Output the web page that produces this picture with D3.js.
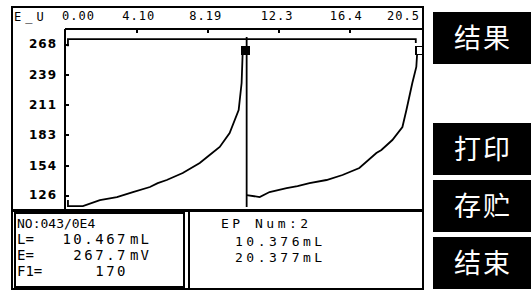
<!doctype html>
<html>
  <head>
    <meta charset="utf-8">
    <title>Titration curve</title>
    <script src="https://cdnjs.cloudflare.com/ajax/libs/d3/7.8.5/d3.min.js"></script>
    <style>
      body { margin: 0; background: #fff; }
      text { fill: #000; }
      .lcd { font-family: "DejaVu Sans Mono", monospace; }
      .xax text { font-family: "DejaVu Sans Mono", monospace; font-size: 12px; letter-spacing: 1px; }
      .yax text { font-family: "DejaVu Sans", sans-serif; font-size: 12px; font-weight: bold; letter-spacing: 1px; }
      .btn text { fill: #fff; font-family: "Noto Sans CJK SC", sans-serif; font-size: 27px; letter-spacing: 2px; }
    </style>
  </head>
  <body>
    <div id="screen"></div>
    <script>
      // x ticks (mL) and y ticks (mV)
      const xTicks = [0, 4.10, 8.19, 12.3, 16.4, 20.5];
      const xTickLabels = ['0.00', '4.10', '8.19', '12.3', '16.4', '20.5'];
      const yTicks = [268, 239, 211, 183, 154, 126];

      // first titration segment, volume (mL) / potential (mV)
      const curve1V = [0.17, 0.17, 1.03, 2.01, 2.99, 3.91, 4.89, 5.34, 5.86, 6.78, 7.76, 8.33, 8.91, 9.48, 10.0, 10.17, 10.23, 10.34];
      const curve1E = [121.2, 115.6, 115.6, 121.2, 124.1, 128.8, 133.5, 137.2, 140.1, 146.7, 156.1, 163.6, 171.2, 184.3, 205.9, 231.3, 259.5, 265.2];
      // second segment
      const curve2V = [10.46, 11.21, 11.78, 12.76, 13.39, 14.08, 15.06, 15.98, 16.95, 17.93, 18.22, 18.85, 19.43, 19.66, 20.0, 20.23, 20.29];
      const curve2E = [125.9, 124.1, 128.8, 132.5, 134.4, 137.2, 140.1, 144.8, 151.4, 165.5, 168.3, 177.7, 189.9, 205.9, 231.3, 246.4, 262.4];
      // drop line at end of segment 1 and flat trace at the top
      const dropV = [10.46, 10.46];
      const dropE = [274.6, 114.7];
      const topV = [0.17, 0.17, 10.3, 10.62, 20.2, 20.2];
      const topE = [266, 272.5, 272.5, 272.5, 272.5, 269];
      // end points found
      const epV = [10.376, 20.377];
      const epE = [262, 262];

      const infoNo = 'NO:043/0E4';
      const infoLabels = ['L=', 'E=', 'F1='];
      const infoValues = ['10.467', '267.7', '170'];
      const infoUnits = ['mL', 'mV', ''];
      const infoRight = ['EP Num:2', '10.376mL', '20.377mL'];
      const buttons = ['结果', '打印', '存贮', '结束'];
      const buttonTops = [12, 123, 180, 237];

      const svg = d3.select('#screen').append('svg')
        .attr('width', 531).attr('height', 294)
        .attr('shape-rendering', 'crispEdges');

      const x = d3.scaleLinear().domain([0, 20.5]).range([65, 421]);
      const y = d3.scaleLinear().domain([126, 268]).range([195, 44]);

      // outer frame
      svg.append('rect').attr('x', 12).attr('y', 7).attr('width', 411).attr('height', 282)
        .attr('fill', 'none').attr('stroke', '#000').attr('stroke-width', 2);
      svg.append('line').attr('x1', 12).attr('x2', 423).attr('y1', 210.5).attr('y2', 210.5)
        .attr('stroke', '#000').attr('stroke-width', 3);

      // plot frame
      svg.append('line').attr('x1', 65).attr('x2', 423).attr('y1', 29).attr('y2', 29)
        .attr('stroke', '#000').attr('stroke-width', 2);
      svg.append('line').attr('x1', 65).attr('x2', 65).attr('y1', 29).attr('y2', 210)
        .attr('stroke', '#000').attr('stroke-width', 2);

      const xShift = [13, 2, -2, -2, -4, -18];
      const xAxis = svg.append('g').attr('class', 'xax').attr('transform', 'translate(0,29)')
        .call(d3.axisTop(x).tickValues(xTicks).tickSize(-4).tickPadding(9)
          .tickFormat((d, i) => xTickLabels[i]));
      xAxis.selectAll('.tick text').attr('dx', (d, i) => xShift[i]);
      const yAxis = svg.append('g').attr('class', 'yax').attr('transform', 'translate(65,0)')
        .call(d3.axisLeft(y).tickValues(yTicks).tickSize(-4).tickPadding(8));
      [xAxis, yAxis].forEach(a => {
        a.select('.domain').remove();
        a.selectAll('line').attr('stroke', '#000').attr('stroke-width', 2);
      });
      xAxis.selectAll('.tick').filter(d => d === 0 || d === 20.5).select('line').remove();

      svg.append('text').attr('class', 'lcd').attr('x', 14).attr('y', 21)
        .style('font-size', '12px').style('letter-spacing', '4px').text('E_U');

      // curves
      const line = d3.line().x(d => x(d[0])).y(d => y(d[1]));
      const series = [[curve1V, curve1E], [curve2V, curve2E], [dropV, dropE], [topV, topE]];
      svg.append('g').selectAll('path').data(series).join('path')
        .attr('d', s => line(s[0].map((v, i) => [v, s[1][i]])))
        .attr('fill', 'none').attr('stroke', '#000').attr('stroke-width', 1.8)
        .attr('shape-rendering', 'auto');

      // end point markers
      svg.append('g').selectAll('rect').data(epV).join('rect')
        .attr('x', d => x(d) - 3).attr('y', (d, i) => y(epE[i]) - 4)
        .attr('width', 7).attr('height', 8)
        .attr('fill', (d, i) => i === 0 ? '#000' : '#fff')
        .attr('stroke', '#000').attr('stroke-width', 1.5);

      // info boxes
      svg.append('rect').attr('x', 15).attr('y', 213).attr('width', 169).attr('height', 74)
        .attr('fill', 'none').attr('stroke', '#000').attr('stroke-width', 2);
      svg.append('line').attr('x1', 189).attr('x2', 189).attr('y1', 211).attr('y2', 289)
        .attr('stroke', '#000').attr('stroke-width', 2);

      svg.append('text').attr('class', 'lcd').attr('x', 17).attr('y', 228)
        .style('font-size', '13px').text(infoNo);
      const rows = svg.append('g').selectAll('g').data(infoLabels).join('g')
        .attr('class', 'lcd').style('font-size', '14px')
        .attr('transform', (d, i) => `translate(0,${244 + i * 16})`);
      rows.append('text').attr('x', 17).text(d => d);
      rows.append('text').attr('x', 128).attr('text-anchor', 'end')
        .style('letter-spacing', '2.5px').text((d, i) => infoValues[i]);
      rows.append('text').attr('x', 130).style('letter-spacing', '2px').text((d, i) => infoUnits[i]);

      svg.append('g').selectAll('text').data(infoRight).join('text')
        .attr('class', 'lcd').style('font-size', '13px').style('letter-spacing', '3.5px')
        .attr('x', (d, i) => i === 0 ? 221 : 235).attr('y', (d, i) => [228, 246, 262][i])
        .text(d => d);

      // soft keys
      const btn = svg.append('g').selectAll('g').data(buttons).join('g').attr('class', 'btn');
      btn.append('rect').attr('x', 433).attr('y', (d, i) => buttonTops[i])
        .attr('width', 98).attr('height', 52).attr('fill', '#000');
      btn.append('text').attr('x', 483).attr('y', (d, i) => buttonTops[i] + 36)
        .attr('text-anchor', 'middle').text(d => d);
    </script>
  </body>
</html>
